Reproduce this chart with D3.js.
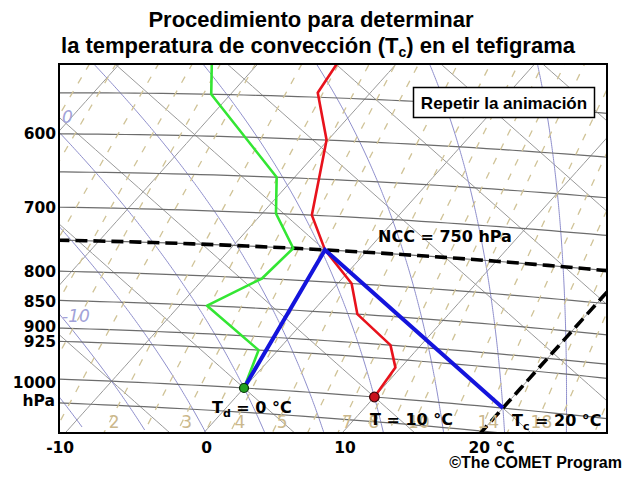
<!DOCTYPE html>
<html>
<head>
<meta charset="utf-8">
<script src="https://cdn.jsdelivr.net/npm/d3@7"></script>
<style>
  body { margin: 0; background: #fff; }
  svg text { font-family: "DejaVu Sans", sans-serif; }
  .arial { font-family: "Liberation Sans", Arial, sans-serif; }
</style>
</head>
<body>
<svg id="chart" width="626" height="478"></svg>
<script>
// Sounding (pressure hPa, temperature °C)
const tempPres = [1000, 940, 900, 850, 800, 750, 700, 600, 545, 500];
const tempVals = [10, 9.6, 7.8, 3.4, 1.0, -3.1, -6.3, -10.1, -13.8, -14.5];
const dewPres = [1000, 925, 850, 800, 750, 700, 650, 550, 500];
const dewVals = [0, -1.4, -8.0, -5.8, -5.5, -9.0, -11.3, -21.4, -24.3];

// the construction: surface dew point, CCL (NCC) and convective temperature
const surfPres = 1000, surfDew = 0, surfTemp = 10;
const nccPres = 750, nccTemp = -3.1;
const convTemp = 20;

// background diagram lines
const isobars = [550, 600, 650, 700, 750, 800, 850, 900, 925, 1000, 1050];
const pLabels = [600, 700, 800, 850, 900, 925, 1000];
const isotherms = d3.range(-80, 60, 10);
const dryAdiabats = d3.range(-40, 110, 10);
const wetAdiabats = d3.range(-30, 45, 5);
const wetLabels = [0, -10];
const mixRatios = [0.4, 0.5, 0.6, 0.8, 1, 1.2, 1.5, 2, 2.5, 3, 3.5, 4, 5, 6, 7, 8, 9, 10, 12, 14, 16, 18, 20, 24, 28, 32];
const mixLabels = [2, 3, 4, 5, 7, 8, 10, 14, 18];
const xTicks = [-10, 0, 10, 20];

const K = 273.15, KAPPA = 0.2857;
const plot = {x: 59, y: 64, w: 548, h: 369};

// Tephigram frame: temperature axis and entropy (ln theta) axis,
// then rotated onto the page.
const tAxis = d3.scaleLinear().domain([0, 10]).range([0, 103.07]);
const sAxis = d3.scaleLinear().domain([Math.log(K), Math.log(K) + 0.1]).range([0, 221.94]);
const rot = {tx: 0.748, ty: 0.6636, sx: 0.6677, sy: -0.7443};
const ORIGIN = [244, 388];   // page position of 0 °C, 1000 hPa

function proj(tc, p) {
    const a = tAxis(tc),
          b = sAxis(Math.log(tc + K) + KAPPA * Math.log(1000 / p));
    return [ORIGIN[0] + a * rot.tx + b * rot.sx, ORIGIN[1] + a * rot.ty + b * rot.sy];
}

// thermodynamics helpers
const es = tc => 6.112 * Math.exp(17.67 * tc / (tc + 243.5));
const dewFromE = e => { const l = Math.log(e / 6.112); return 243.5 * l / (17.67 - l); };
const mixDew = (w, p) => dewFromE(w * p / (622 + w));

function moistCurve(thw) {
    const Rd = 287.04, cp = 1005.7, Lv = 2.501e6, eps = 0.622;
    const slope = (T, p) => {
        const e = es(T - K), rs = eps * e / (p - e);
        return (Rd * T + Lv * rs) / (cp + Lv * Lv * rs * eps / (Rd * T * T));
    };
    const run = (dir) => {
        let T = thw + K, lp = Math.log(1000), out = [];
        const h = 0.004 * dir;
        while (true) {
            const p = Math.exp(lp);
            out.push([T - K, p]);
            if (p < 250 || p > 1100) break;
            const k1 = slope(T, p),
                  k2 = slope(T + h * k1 / 2, Math.exp(lp + h / 2)),
                  k3 = slope(T + h * k2 / 2, Math.exp(lp + h / 2)),
                  k4 = slope(T + h * k3, Math.exp(lp + h));
            T += h * (k1 + 2 * k2 + 2 * k3 + k4) / 6;
            lp += h;
        }
        return out;
    };
    return run(-1).reverse().concat(run(1).slice(1));
}

const svg = d3.select("#chart");
const line = d3.line();

svg.append("defs").append("clipPath").attr("id", "clip")
    .append("rect").attr("x", plot.x).attr("y", plot.y).attr("width", plot.w).attr("height", plot.h);

const g = svg.append("g").attr("clip-path", "url(#clip)");

const pRange = d3.range(1120, 180, -10);

// isotherms and dry adiabats
isotherms.forEach(t => {
    g.append("path").attr("d", line(pRange.map(p => proj(t, p))))
        .attr("fill", "none").attr("stroke", "#9a9a9a").attr("stroke-width", 1);
});
dryAdiabats.forEach(th => {
    g.append("path").attr("d", line(pRange.map(p => proj((th + K) * Math.pow(p / 1000, KAPPA) - K, p))))
        .attr("fill", "none").attr("stroke", "#9a9a9a").attr("stroke-width", 1);
});

// saturated adiabats
const wetPaths = new Map();
wetAdiabats.forEach(th => {
    const pts = moistCurve(th).map(d => proj(d[0], d[1]));
    wetPaths.set(th, pts);
    g.append("path").attr("d", line(pts))
        .attr("fill", "none").attr("stroke", "#8e8ecc").attr("stroke-width", 1);
});

// isobars
isobars.forEach(p => {
    g.append("path").attr("d", line(d3.range(-90, 55, 1).map(t => proj(t, p))))
        .attr("fill", "none").attr("stroke", "#6c6c6c").attr("stroke-width", 1.2);
});

// mixing ratio lines
const mixPaths = new Map();
mixRatios.forEach(w => {
    const pts = d3.range(1120, 280, -10).map(p => proj(mixDew(w, p), p));
    mixPaths.set(w, pts);
    g.append("path").attr("d", line(pts))
        .attr("fill", "none").attr("stroke", "#d0c397").attr("stroke-width", 1.3)
        .attr("stroke-dasharray", "7,9");
});

// find where a polyline crosses a page coordinate
function crossing(pts, idx, val) {
    for (let i = 1; i < pts.length; i++) {
        const a = pts[i - 1][idx] - val, b = pts[i][idx] - val;
        if (a === 0) return pts[i - 1];
        if (a * b < 0) {
            const f = a / (a - b);
            return [pts[i - 1][0] + f * (pts[i][0] - pts[i - 1][0]), pts[i - 1][1] + f * (pts[i][1] - pts[i - 1][1])];
        }
    }
    return null;
}

// mixing ratio labels
mixLabels.forEach(w => {
    const c = crossing(mixPaths.get(w), 1, 421);
    if (!c) return;
    svg.append("text").attr("x", c[0] + 4).attr("y", 428)
        .attr("text-anchor", "middle").attr("fill", "#cbb88c")
        .style("font-size", "17px").text(w);
});

// saturated adiabat labels at the left edge
const wetNudge = {0: -9, "-10": 8};
wetLabels.forEach(th => {
    const c = crossing(wetPaths.get(th), 0, plot.x);
    if (!c) return;
    svg.append("text").attr("x", plot.x + 3).attr("y", c[1] + wetNudge[th])
        .attr("fill", "#a2a2d8").style("font-size", "17px").style("font-style", "italic")
        .text(th);
});

// NCC isobar (dashed) and the Tc isotherm (dashed)
g.append("path").attr("d", line(d3.range(-60, 50, 1).map(t => proj(t, nccPres))))
    .attr("fill", "none").attr("stroke", "#000").attr("stroke-width", 3.6)
    .attr("stroke-dasharray", "12,6");
g.append("path").attr("d", line(pRange.map(p => proj(convTemp, p))))
    .attr("fill", "none").attr("stroke", "#000").attr("stroke-width", 3.6)
    .attr("stroke-dasharray", "12,6");

// sounding
g.append("path").attr("d", line(tempPres.map((p, i) => proj(tempVals[i], p))))
    .attr("fill", "none").attr("stroke", "#e8121c").attr("stroke-width", 2.6)
    .attr("stroke-linejoin", "round");
g.append("path").attr("d", line(dewPres.map((p, i) => proj(dewVals[i], p))))
    .attr("fill", "none").attr("stroke", "#33e633").attr("stroke-width", 2.6)
    .attr("stroke-linejoin", "round");

// construction in blue: mixing ratio up to NCC, dry adiabat back down
g.append("path").attr("d", line([proj(surfDew, surfPres), proj(nccTemp, nccPres), proj(convTemp, surfPres)]))
    .attr("fill", "none").attr("stroke", "#1414dc").attr("stroke-width", 4)
    .attr("stroke-linejoin", "miter");

// surface points
const dp = proj(surfDew, surfPres), tp = proj(surfTemp, surfPres);
svg.append("circle").attr("cx", dp[0]).attr("cy", dp[1]).attr("r", 4.5)
    .attr("fill", "#22a022").attr("stroke", "#063006").attr("stroke-width", 1.2);
svg.append("circle").attr("cx", tp[0]).attr("cy", tp[1]).attr("r", 4.8)
    .attr("fill", "#c8101c").attr("stroke", "#400408").attr("stroke-width", 1.2);

// frame
svg.append("rect").attr("x", plot.x).attr("y", plot.y).attr("width", plot.w).attr("height", plot.h)
    .attr("fill", "none").attr("stroke", "#000").attr("stroke-width", 2);

// pressure labels
const leftY = p => crossing(d3.range(-90, 55, 0.5).map(t => proj(t, p)), 0, plot.x)[1];
const pNudge = {850: 1, 900: -2, 925: 0, 1000: 3};
pLabels.forEach(p => {
    svg.append("text").attr("x", 56).attr("y", leftY(p) + 5.5 + (pNudge[p] || 0))
        .attr("text-anchor", "end").style("font-size", "15.5px").style("font-weight", "bold")
        .text(p);
});
svg.append("text").attr("x", 55).attr("y", leftY(1000) + 27)
    .attr("text-anchor", "end").style("font-size", "15.5px").style("font-weight", "bold").text("hPa");

// temperature labels along the bottom
xTicks.forEach(t => {
    const c = crossing(pRange.map(p => proj(t, p)), 1, plot.y + plot.h);
    const txt = svg.append("text").attr("y", 453).style("font-size", "15.5px").style("font-weight", "bold");
    if (t === 20) txt.attr("x", c[0] - 12).text("20 °C");
    else txt.attr("x", c[0] + (t < 0 ? -5 : 3)).attr("text-anchor", "middle").text(t);
});

// annotations
const note = (x, y, parts) => {
    const t = svg.append("text").attr("x", x).attr("y", y)
        .style("font-size", "16px").style("font-weight", "bold");
    parts.forEach(([s, sub]) => {
        const ts = t.append("tspan").text(s);
        if (sub) ts.style("font-size", "11px").attr("dy", 4);
        else if (t.selectAll("tspan").size() > 1) ts.attr("dy", -4);
    });
};
note(212, 413, [["T"], ["d", true], [" = 0 °C"]]);
note(370, 425, [["T = 10 °C"]]);
note(512, 426, [["T"], ["c", true], [" = 20 °C"]]);
svg.append("text").attr("x", 378).attr("y", 242)
    .style("font-size", "16px").style("font-weight", "bold").text("NCC = 750 hPa");

// replay button
svg.append("rect").attr("x", 413.5).attr("y", 87.5).attr("width", 181).attr("height", 30)
    .attr("fill", "#fff").attr("stroke", "#000").attr("stroke-width", 1.5);
svg.append("text").attr("class", "arial").attr("x", 504).attr("y", 109)
    .attr("text-anchor", "middle").style("font-size", "17px").style("font-weight", "bold")
    .text("Repetir la animación");

// title
svg.append("text").attr("class", "arial").attr("x", 311).attr("y", 27)
    .attr("text-anchor", "middle").style("font-size", "22px").style("font-weight", "bold")
    .text("Procedimiento para determinar");
const t2 = svg.append("text").attr("class", "arial").attr("x", 318).attr("y", 53)
    .attr("text-anchor", "middle").style("font-size", "22px").style("font-weight", "bold");
t2.append("tspan").text("la temperatura de convección (T");
t2.append("tspan").attr("dy", 4).style("font-size", "14px").text("c");
t2.append("tspan").attr("dy", -4).text(") en el tefigrama");

svg.append("text").attr("class", "arial").attr("x", 622).attr("y", 468)
    .attr("text-anchor", "end").style("font-size", "16px").style("font-weight", "bold")
    .text("©The COMET Program");
</script>
</body>
</html>
